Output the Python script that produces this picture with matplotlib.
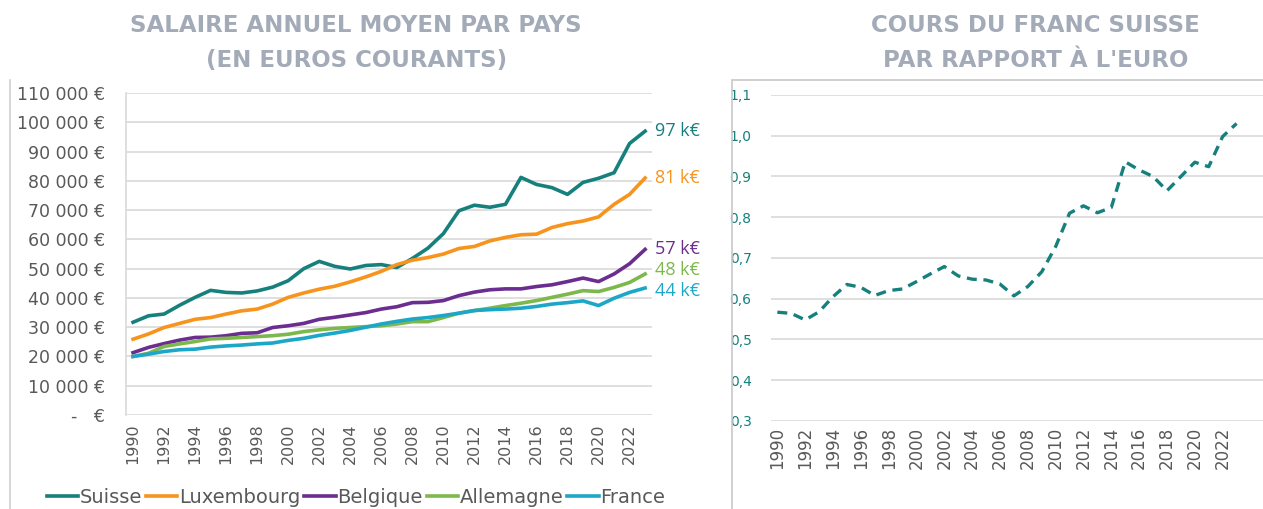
# Salaires moyens et cours CHF/EUR - deux graphiques cote a cote
import numpy as np
import matplotlib.pyplot as plt
from matplotlib.ticker import FuncFormatter, MultipleLocator
from matplotlib.patches import Rectangle

years = list(range(1990, 2024))

suisse = [31.7, 33.9, 34.5, 37.5, 40.2, 42.6, 41.9, 41.7, 42.4, 43.7, 45.9, 50.0, 52.5, 50.8,
          49.9, 51.1, 51.4, 50.4, 53.5, 57.0, 62.0, 69.8, 71.7, 71.0, 72.0, 81.2, 78.8, 77.7,
          75.4, 79.5, 80.9, 82.8, 92.8, 97.0]
luxembourg = [25.9, 27.7, 29.9, 31.3, 32.7, 33.3, 34.5, 35.6, 36.2, 37.9, 40.2, 41.7, 43.0, 44.0,
              45.5, 47.2, 49.1, 51.4, 52.9, 53.8, 55.0, 56.9, 57.6, 59.5, 60.7, 61.6, 61.8, 64.1,
              65.4, 66.3, 67.7, 72.0, 75.4, 81.0]
belgique = [21.3, 23.1, 24.4, 25.6, 26.5, 26.6, 27.1, 27.9, 28.1, 29.9, 30.5, 31.3, 32.7, 33.4,
            34.2, 35.0, 36.2, 37.0, 38.4, 38.5, 39.1, 40.8, 42.0, 42.8, 43.1, 43.1, 43.9, 44.5,
            45.6, 46.8, 45.6, 48.2, 51.7, 56.6]
allemagne = [20.0, 21.1, 23.4, 24.3, 25.1, 26.0, 26.2, 26.5, 26.8, 27.1, 27.6, 28.5, 29.1, 29.6,
             29.9, 30.2, 30.5, 31.1, 31.9, 31.9, 33.3, 34.8, 35.7, 36.5, 37.4, 38.2, 39.1, 40.2,
             41.3, 42.5, 42.2, 43.6, 45.3, 48.2]
france = [20.0, 20.8, 21.7, 22.3, 22.5, 23.2, 23.6, 23.9, 24.3, 24.6, 25.5, 26.2, 27.2, 28.0,
          28.9, 30.0, 31.1, 32.0, 32.8, 33.3, 34.0, 34.8, 35.7, 36.0, 36.2, 36.5, 37.1, 37.9,
          38.4, 39.0, 37.4, 39.9, 41.9, 43.4]
chf_eur = [0.567, 0.564, 0.548, 0.568, 0.605, 0.635, 0.628, 0.608, 0.620, 0.624, 0.642, 0.661,
           0.679, 0.656, 0.648, 0.646, 0.636, 0.607, 0.630, 0.666, 0.728, 0.810, 0.828, 0.811,
           0.824, 0.936, 0.916, 0.900, 0.865, 0.900, 0.935, 0.924, 0.998, 1.030]

series = [("Suisse", suisse, "#16807d"),
          ("Luxembourg", luxembourg, "#f7941d"),
          ("Belgique", belgique, "#6b2d8f"),
          ("Allemagne", allemagne, "#7cb84c"),
          ("France", france, "#1ca7c9")]
end_labels = ["97 k€", "81 k€", "57 k€", "48 k€", "44 k€"]
label_offsets = [0, 0, 0, 1.5, -1]

title_col = "#a3aab8"
grid_col = "#d9d9d9"
text_col = "#595959"

fig = plt.figure(figsize=(12.63, 5.09), dpi=100)

# ---- graphique de gauche ----
ax1 = fig.add_axes([0.0998, 0.1847, 0.4165, 0.6323])
for (name, vals, col), lab, off in zip(series, end_labels, label_offsets):
    v = np.array(vals) * 1000
    ax1.plot(years, v, color=col, lw=2.6, label=name, solid_joinstyle="round")
    ax1.annotate(lab, xy=(years[-1], v[-1] + off * 1000), xytext=(7, 0),
                 textcoords="offset points", va="center", ha="left",
                 color=col, fontsize=13, family="Open Sans")

ax1.set_xlim(1989.55, 2023.45)
ax1.set_ylim(0, 110000)
ax1.yaxis.set_major_locator(MultipleLocator(10000))
ax1.yaxis.set_major_formatter(FuncFormatter(
    lambda v, p: "-   €" if v == 0 else f"{int(v):,} €".replace(",", " ")))
ax1.set_xticks(years[::2])
ax1.set_xticklabels([str(y) for y in years[::2]], rotation=90)
ax1.tick_params(axis="y", length=0, pad=15, labelsize=12.5, labelcolor=text_col)
ax1.tick_params(axis="x", length=0, pad=6, labelsize=11.5, labelcolor=text_col)
ax1.grid(axis="y", color=grid_col, lw=1.2)
ax1.set_axisbelow(True)
for s in ["top", "right", "bottom"]:
    ax1.spines[s].set_visible(False)
ax1.spines["left"].set_color(grid_col)
ax1.spines["left"].set_linewidth(1.2)

fig.text(0.282, 0.95, "SALAIRE ANNUEL MOYEN PAR PAYS", ha="center", va="center",
         fontsize=16.5, fontweight="bold", color=title_col)
fig.text(0.282, 0.882, "(EN EUROS COURANTS)", ha="center", va="center",
         fontsize=16.5, fontweight="bold", color=title_col)

fig.legend(*ax1.get_legend_handles_labels(), loc="center", bbox_to_anchor=(0.282, 0.022),
           ncol=5, frameon=False, fontsize=14, handlelength=1.6, handletextpad=0.1,
           columnspacing=0.2, labelcolor=text_col)

# ---- graphique de droite ----
ax2 = fig.add_axes([0.6105, 0.1729, 0.3895, 0.6405])
ax2.plot(years, chf_eur, color="#16807d", lw=2.4, linestyle=(0, (3, 2)))
ax2.set_xlim(1989.55, 2024.9)
ax2.set_ylim(0.3, 1.1)
ax2.yaxis.set_major_locator(MultipleLocator(0.1))
ax2.yaxis.set_major_formatter(FuncFormatter(lambda v, p: f"{v:.1f}".replace(".", ",")))
ax2.set_xticks(years[::2])
ax2.set_xticklabels([str(y) for y in years[::2]], rotation=90)
ax2.tick_params(axis="y", length=0, pad=14, labelsize=10, labelcolor="#16807d")
ax2.tick_params(axis="x", length=0, pad=4, labelsize=12, labelcolor=text_col)
ax2.grid(axis="y", color=grid_col, lw=1.2)
ax2.set_axisbelow(True)
for s in ax2.spines.values():
    s.set_visible(False)

fig.text(0.82, 0.95, "COURS DU FRANC SUISSE", ha="center", va="center",
         fontsize=16.5, fontweight="bold", color=title_col)
fig.text(0.82, 0.882, "PAR RAPPORT À L'EURO", ha="center", va="center",
         fontsize=16.5, fontweight="bold", color=title_col)

# cadres des graphiques
fig.add_artist(Rectangle((732 / 1263, -0.1), 1.0, 1 - 80 / 509 + 0.1, transform=fig.transFigure,
                         fill=False, edgecolor="#c8c8c8", lw=1.2))
fig.add_artist(plt.Line2D([10 / 1263, 10 / 1263], [0, 1 - 80 / 509], transform=fig.transFigure,
                          color="#d0d0d0", lw=1.2))

fig.savefig("out.png", dpi=100)
